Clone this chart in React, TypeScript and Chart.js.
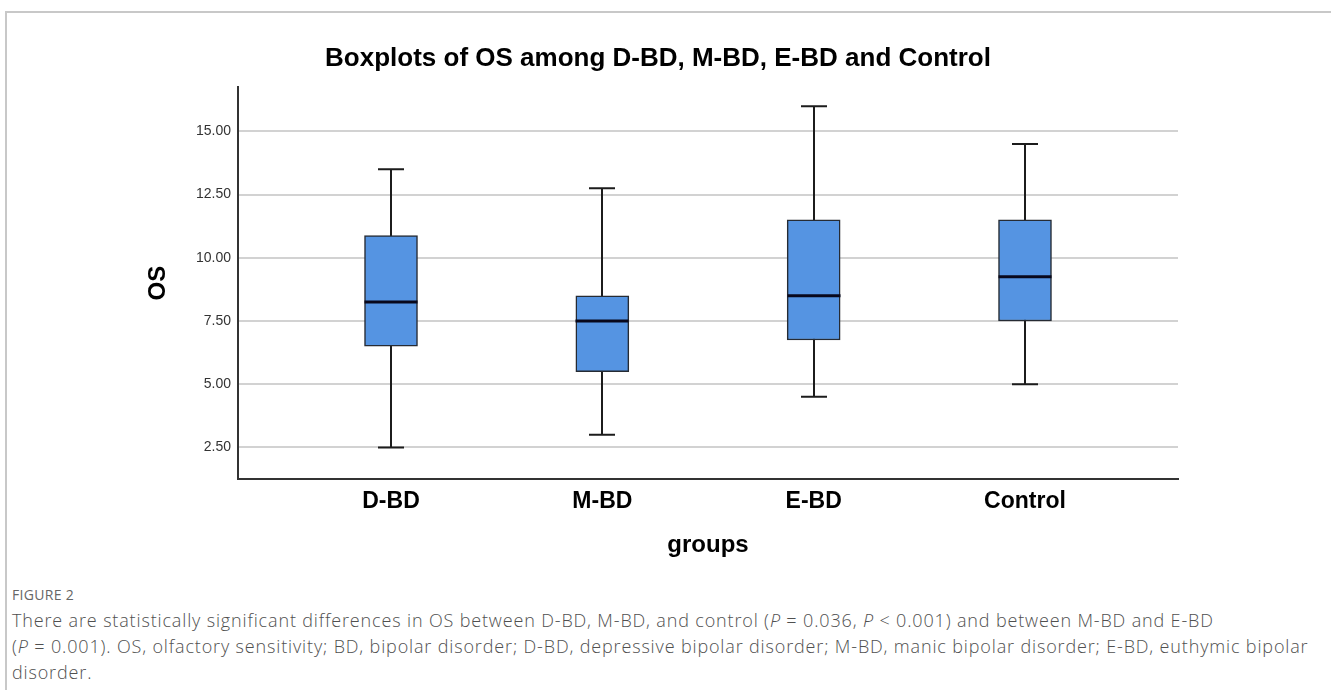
import React, { useEffect, useRef } from "react";
import { Chart, registerables } from "chart.js";

Chart.register(...registerables);

const groups = ["D-BD", "M-BD", "E-BD", "Control"];
const positions = [1, 2, 3, 4];
const mins = [2.5, 3.0, 4.5, 5.0];
const q1s = [6.5, 5.5, 6.75, 7.5];
const medians = [8.25, 7.5, 8.5, 9.25];
const q3s = [10.875, 8.5, 11.5, 11.5];
const maxs = [13.5, 12.75, 16.0, 14.5];
const yTicks = [2.5, 5.0, 7.5, 10.0, 12.5, 15.0];

const boxWidth = 53;
const capWidth = 26;

const whiskerPlugin = {
  id: "boxWhiskers",
  beforeDatasetsDraw(chart: any) {
    const { ctx, scales } = chart;
    const xs = scales.x;
    const ys = scales.y;
    ctx.save();
    ctx.strokeStyle = "#1c1c1c";
    ctx.lineWidth = 2;
    positions.forEach((p, i) => {
      const cx = Math.round(xs.getPixelForValue(p));
      const yMin = ys.getPixelForValue(mins[i]);
      const yMax = ys.getPixelForValue(maxs[i]);
      ctx.beginPath();
      ctx.moveTo(cx, yMin);
      ctx.lineTo(cx, yMax);
      ctx.moveTo(cx - capWidth / 2, yMin);
      ctx.lineTo(cx + capWidth / 2, yMin);
      ctx.moveTo(cx - capWidth / 2, yMax);
      ctx.lineTo(cx + capWidth / 2, yMax);
      ctx.stroke();
    });
    ctx.restore();
  },
  afterDatasetsDraw(chart: any) {
    const { ctx, scales } = chart;
    const xs = scales.x;
    const ys = scales.y;
    ctx.save();
    ctx.strokeStyle = "#08081c";
    ctx.lineWidth = 3;
    positions.forEach((p, i) => {
      const cx = Math.round(xs.getPixelForValue(p));
      const ym = ys.getPixelForValue(medians[i]);
      ctx.beginPath();
      ctx.moveTo(cx - boxWidth / 2, ym);
      ctx.lineTo(cx + boxWidth / 2, ym);
      ctx.stroke();
    });
    ctx.restore();
  },
};

export default function App() {
  const canvasRef = useRef<HTMLCanvasElement | null>(null);

  useEffect(() => {
    if (!canvasRef.current) return;
    const chart = new Chart(canvasRef.current, {
      type: "bar",
      data: {
        datasets: [
          {
            label: "OS",
            data: positions.map((p, i) => ({ x: p, y: [q1s[i], q3s[i]] })) as any,
            backgroundColor: "#5594e2",
            borderColor: "#262b33",
            borderWidth: 1.5,
            borderSkipped: false,
            barThickness: boxWidth,
          },
        ],
      },
      options: {
        animation: false,
        responsive: false,
        maintainAspectRatio: false,
        layout: { padding: { left: 138, right: 153, top: 0, bottom: 0 } },
        plugins: {
          legend: { display: false },
          tooltip: { enabled: false },
          title: {
            display: true,
            text: "Boxplots of OS among D-BD, M-BD, E-BD and Control",
            color: "#000",
            font: { family: "Arial, 'Liberation Sans', sans-serif", size: 26, weight: "bold" },
            padding: { top: 43, bottom: 13 },
          },
        },
        scales: {
          x: {
            type: "linear",
            min: 0.276,
            max: 4.724,
            offset: false,
            afterBuildTicks(scale: any) {
              scale.ticks = positions.map((v) => ({ value: v }));
            },
            afterFit(scale: any) {
              scale.height = 101;
            },
            ticks: {
              autoSkip: false,
              maxRotation: 0,
              padding: 9,
              color: "#000",
              font: { family: "Arial, 'Liberation Sans', sans-serif", size: 23, weight: "bold" },
              callback: (v: any) => {
                const idx = positions.indexOf(Number(v));
                return idx >= 0 ? groups[idx] : "";
              },
            },
            grid: { display: false, drawTicks: false },
            border: { display: true, color: "#333", width: 2 },
            title: {
              display: true,
              text: "groups",
              color: "#000",
              font: { family: "Arial, 'Liberation Sans', sans-serif", size: 24, weight: "bold" },
              padding: { top: 0, bottom: 20 },
            },
          },
          y: {
            type: "linear",
            min: 1.25,
            max: 16.75,
            afterBuildTicks(scale: any) {
              scale.ticks = yTicks.map((v) => ({ value: v }));
            },
            afterFit(scale: any) {
              scale.width = 100;
            },
            ticks: {
              padding: 7,
              color: "#333",
              font: { family: "Arial, 'Liberation Sans', sans-serif", size: 14 },
              callback: (v: any) => Number(v).toFixed(2),
            },
            grid: { color: "#d2d2d2", lineWidth: 2, drawTicks: false },
            border: { display: true, color: "#333", width: 2 },
            title: {
              display: true,
              text: "OS",
              color: "#000",
              font: { family: "Arial, 'Liberation Sans', sans-serif", size: 24, weight: "bold" },
              padding: { top: 6, bottom: 0 },
            },
          },
        },
      },
      plugins: [whiskerPlugin],
    });
    return () => chart.destroy();
  }, []);

  return (
    <div
      style={{
        position: "absolute",
        left: 0,
        top: 0,
        width: 1331,
        height: 690,
        background: "#fff",
        overflow: "hidden",
      }}
    >
      <div
        style={{
          position: "absolute",
          left: 5,
          top: 11,
          width: 1400,
          height: 700,
          borderTop: "2px solid #c8c8c8",
          borderLeft: "2px solid #c8c8c8",
        }}
      />
      <canvas
        ref={canvasRef}
        width={1331}
        height={580}
        style={{ position: "absolute", left: 0, top: 0, width: 1331, height: 580 }}
      />
      <div
        style={{
          position: "absolute",
          left: 12,
          top: 585,
          fontFamily: "'Open Sans', 'Noto Sans', sans-serif",
          color: "#666",
          fontSize: 14,
          fontWeight: 400,
          letterSpacing: 0.3,
        }}
      >
        FIGURE 2
      </div>
      <div
        style={{
          position: "absolute",
          left: 12,
          top: 607,
          fontFamily: "'Open Sans', 'Noto Sans', sans-serif",
          color: "#505050",
          fontSize: 18,
          fontWeight: 300,
          lineHeight: "26px",
          letterSpacing: 0.85,
          whiteSpace: "nowrap",
        }}
      >
        There are statistically significant differences in OS between D-BD, M-BD, and control (<i>P</i> = 0.036, <i>P</i> &lt; 0.001) and between M-BD and E-BD
        <br />
        (<i>P</i> = 0.001). OS, olfactory sensitivity; BD, bipolar disorder; D-BD, depressive bipolar disorder; M-BD, manic bipolar disorder; E-BD, euthymic bipolar
        <br />
        disorder.
      </div>
    </div>
  );
}
